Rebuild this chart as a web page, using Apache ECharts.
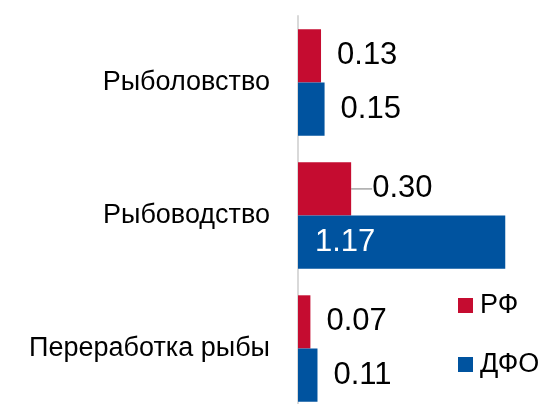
<!DOCTYPE html>
<html>
<head>
<meta charset="utf-8">
<script src="https://cdn.jsdelivr.net/npm/echarts@6/dist/echarts.min.js"></script>
<style>
    html, body { margin: 0; padding: 0; background: #fff; }
    #main { width: 546px; height: 404px; }
</style>
</head>
<body>
<div id="main"></div>
<script>
// данные
var categories = ['Рыболовство', 'Рыбоводство', 'Переработка рыбы'];
var seriesNames = ['РФ', 'ДФО'];
var rfValues = [0.13, 0.30, 0.07];
var dfoValues = [0.15, 1.17, 0.11];

var FONT = '"Liberation Sans", Arial, sans-serif';

function fmt(p) {
    return p.value.toFixed(2);
}

var myChart = echarts.init(document.getElementById('main'));

myChart.setOption({
    animation: false,
    textStyle: { fontFamily: FONT },
    grid: {
        left: 298,
        top: 16,
        width: 248,
        height: 399,
        outerBoundsMode: 'none',
        containLabel: false
    },
    legend: {
        orient: 'vertical',
        left: 453,
        top: 287,
        itemWidth: 15,
        itemHeight: 15,
        itemGap: 32,
        icon: 'rect',
        data: seriesNames,
        textStyle: { fontSize: 27, color: '#000', fontFamily: FONT, padding: [0, 0, 0, 2] }
    },
    xAxis: {
        type: 'value',
        min: 0,
        max: 1.4,
        show: false
    },
    yAxis: {
        type: 'category',
        inverse: true,
        data: categories,
        axisLine: { show: true, lineStyle: { color: '#d9d9d9', width: 2 } },
        axisTick: { show: false },
        axisLabel: { fontSize: 27, color: '#000', margin: 28, fontFamily: FONT }
    },
    series: [
        {
            name: seriesNames[0],
            type: 'bar',
            barGap: '0%',
            barCategoryGap: '20%',
            itemStyle: { color: '#C50C30' },
            label: {
                show: true,
                position: 'right',
                distance: 16,
                fontSize: 31,
                color: '#000',
                fontFamily: FONT,
                formatter: fmt
            },
            labelLine: { show: false, lineStyle: { color: '#a6a6a6', width: 1.5 } },
            labelLayout: function (p) {
                if (p.dataIndex === 1) {
                    return { dx: 5 };
                }
                return {};
            },
            data: rfValues.map(function (v, i) {
                if (i === 1) {
                    return { value: v, labelLine: { show: true } };
                }
                return v;
            })
        },
        {
            name: seriesNames[1],
            type: 'bar',
            itemStyle: { color: '#00539F' },
            label: {
                show: true,
                position: 'right',
                distance: 16,
                fontSize: 31,
                color: '#000',
                fontFamily: FONT,
                formatter: fmt
            },
            data: dfoValues.map(function (v) {
                if (v > 1) {
                    return {
                        value: v,
                        label: { position: 'insideLeft', distance: 17, color: '#fff' }
                    };
                }
                return v;
            })
        }
    ]
});
</script>
</body>
</html>
